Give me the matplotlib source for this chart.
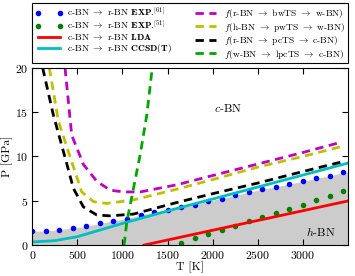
import numpy as np
import matplotlib.pyplot as plt

plt.rcParams["font.family"] = "cmr10"
plt.rcParams["mathtext.fontset"] = "cm"
plt.rcParams["axes.formatter.use_mathtext"] = True

# experimental points
exp61_T = [0, 150, 300, 450, 600, 750, 900, 1050, 1200, 1350, 1500, 1650, 1800,
           1950, 2100, 2250, 2400, 2550, 2700, 2850, 3000, 3150, 3300, 3450]
exp61_P = [1.58, 1.58, 1.74, 1.92, 2.1, 2.45, 2.75, 3.0, 3.4, 3.7, 4.0, 4.25, 4.53,
           4.98, 5.25, 5.6, 5.97, 6.3, 6.57, 6.9, 7.2, 7.55, 7.8, 8.2]
exp51_T = [1650, 1800, 1950, 2100, 2250, 2400, 2550, 2700, 2850, 3000, 3150, 3300, 3450]
exp51_P = [0.26, 0.76, 1.21, 1.7, 2.19, 2.7, 3.14, 3.67, 4.12, 4.57, 5.06, 5.5, 6.05]

# calculated boundaries
lda_T = [1240, 3500]
lda_P = [0.0, 4.98]
ccsd_T = [0, 250, 500, 750, 1000, 1250, 1500, 2000, 2500, 3000, 3500]
ccsd_P = [0.35, 0.5, 0.95, 1.7, 2.45, 3.15, 3.85, 5.2, 6.55, 7.9, 9.25]

# transition-state curves
bw_T = [363, 437, 567, 715, 863, 1011, 1196, 1600, 2000, 2500, 3000, 3420]
bw_P = [20, 12.4, 9.1, 7.2, 6.2, 6.0, 6.0, 6.8, 7.85, 9.15, 10.45, 11.6]
pw_T = [189, 289, 437, 548, 678, 826, 1122, 1600, 2000, 2500, 3000, 3420]
pw_P = [20, 14.0, 9.4, 6.0, 4.9, 4.7, 5.1, 6.3, 7.4, 8.8, 10.0, 11.1]
pc_T = [115, 233, 344, 456, 567, 715, 863, 1122, 1600, 2000, 2500, 3000, 3475]
pc_P = [20, 14.7, 10.6, 6.4, 4.3, 3.4, 3.3, 3.5, 4.8, 5.8, 7.0, 8.3, 9.5]
lpc_T = [1018, 1048, 1122, 1196, 1270, 1330]
lpc_P = [0, 2.6, 6.4, 10.2, 14.7, 20]

fig = plt.figure(figsize=(3.55, 2.76), dpi=100)
ax = fig.add_axes([0.091, 0.112, 0.889, 0.642])

Tf = np.linspace(0, 3500, 200)
ax.fill_between(Tf, 0, np.interp(Tf, exp61_T, exp61_P), color="0.8", lw=0, zorder=0)

ax.plot(exp61_T, exp61_P, "o", color="b", ms=4, mec="none",
        label=r"c-BN $\rightarrow$ r-BN $\mathbf{EXP}$.$^{[61]}$")
ax.plot(exp51_T, exp51_P, "o", color="g", ms=4, mec="none",
        label=r"c-BN $\rightarrow$ r-BN $\mathbf{EXP}$.$^{[51]}$")
ax.plot(lda_T, lda_P, "-", color="r", lw=2,
        label=r"c-BN $\rightarrow$ r-BN $\mathbf{LDA}$")
ax.plot(ccsd_T, ccsd_P, "-", color="c", lw=2,
        label=r"c-BN $\rightarrow$ r-BN $\mathbf{CCSD(T)}$")

dash = (0, (3, 2))
ax.plot(bw_T, bw_P, color="m", lw=2, ls=dash,
        label=r"$f$(r-BN $\rightarrow$ bwTS $\rightarrow$ w-BN)")
ax.plot(pw_T, pw_P, color="y", lw=2, ls=dash,
        label=r"$f$(h-BN $\rightarrow$ pwTS $\rightarrow$ w-BN)")
ax.plot(pc_T, pc_P, color="k", lw=2, ls=dash,
        label=r"$f$(r-BN $\rightarrow$ pcTS $\rightarrow$ c-BN)")
ax.plot(lpc_T, lpc_P, color=(0, 0.65, 0), lw=2, ls=dash,
        label=r"$f$(w-BN $\rightarrow$ lpcTS $\rightarrow$ c-BN)")

ax.text(2175, 15.5, r"$c$-BN", fontsize=8.5, ha="center", va="center")
ax.text(3200, 1.5, r"$h$-BN", fontsize=8.5, ha="center", va="center")

ax.set_xlim(0, 3500)
ax.set_ylim(0, 20)
ax.set_xticks([0, 500, 1000, 1500, 2000, 2500, 3000])
ax.set_yticks([0, 5, 10, 15, 20])
ax.tick_params(direction="in", top=True, right=True, labelsize=8.5, length=4, pad=3)
ax.set_xlabel("T [K]", fontsize=8.5, labelpad=0)
ax.set_ylabel("P [GPa]", fontsize=8.5, labelpad=1)

leg = fig.legend(*ax.get_legend_handles_labels(), loc="upper left",
                 bbox_to_anchor=(0.091, 0.99, 0.889, 0.0), mode="expand",
                 ncol=2, fontsize=6.8, numpoints=2, handlelength=2.9, fancybox=False,
                 edgecolor="k", framealpha=1, borderaxespad=0, labelspacing=0.05,
                 handletextpad=0.5, columnspacing=0.3, borderpad=0.3)
leg.get_frame().set_linewidth(0.8)

fig.savefig("out.png", dpi=100)
